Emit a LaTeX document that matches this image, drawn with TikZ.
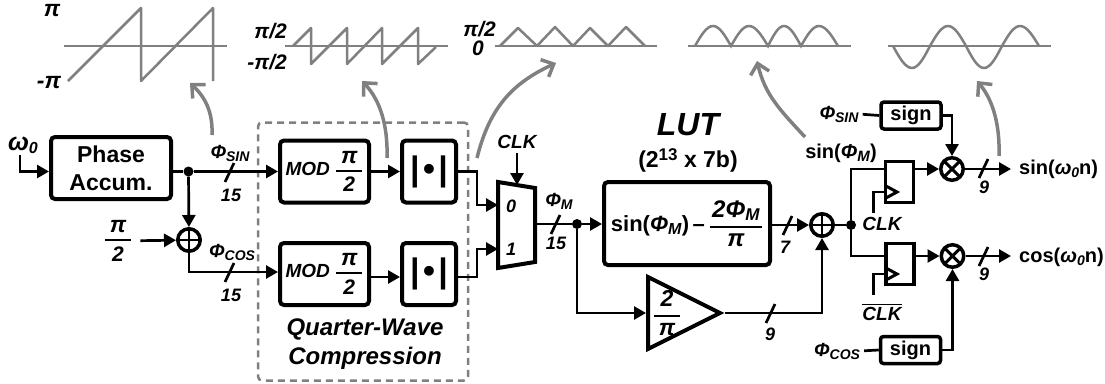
\documentclass[tikz,border=0pt]{standalone}
\usepackage{amsmath}
\usepackage{fontspec}
\setmainfont{Liberation Sans}
\usetikzlibrary{arrows.meta,positioning,shapes.geometric}
\newcommand{\fsz}[1]{\fontsize{#1pt}{\numexpr#1*6/5\relax pt}\selectfont}
\newcommand{\lowsub}[2]{\raisebox{-3pt}{\fsz{#1}#2}}
\newcommand{\stack}[3][26pt]{$\genfrac{}{}{1.8pt}{0}{\hbox{\makebox[#1]{#2}}}{\hbox{\makebox[#1]{#3}}}$}
\definecolor{waveg}{gray}{0.5}
\tikzset{
  >={Triangle[length=12pt,width=13pt]},
  wire/.style={line width=2.7pt},
  block/.style={draw,line width=4pt,rounded corners=4pt,inner sep=0pt,font=\bfseries\itshape\fsz{19},align=center},
  latch/.style={draw,line width=3.5pt,inner sep=0pt,minimum width=28pt,minimum height=41pt},
  signbox/.style={draw,line width=3.5pt,rounded corners=3pt,inner sep=0pt,minimum width=60pt,minimum height=27pt,font=\bfseries\fsz{20}},
  lbl/.style={inner sep=0pt,font=\bfseries\itshape\fsz{18},align=center},
  plain/.style={inner sep=0pt,font=\bfseries\fsz{20},align=center},
  dot/.style={circle,fill,inner sep=0pt,minimum size=10pt},
  adder/.style={circle,draw,line width=3.5pt,inner sep=0pt,minimum size=22.5pt,path picture={
    \draw[line width=2pt] (path picture bounding box.north) -- (path picture bounding box.south)
      (path picture bounding box.west) -- (path picture bounding box.east);}},
  mixer/.style={circle,draw,line width=3.5pt,inner sep=0pt,minimum size=22.5pt,path picture={
    \draw[line width=3pt] (path picture bounding box.north west) -- (path picture bounding box.south east)
      (path picture bounding box.north east) -- (path picture bounding box.south west);}},
  wave/.style={draw=waveg,line width=2.5pt},
  flow/.style={draw=waveg,line width=3.5pt,-{Straight Barb[length=10pt,width=19pt]}},
}
\begin{document}
\begin{tikzpicture}[x=1pt,y=-1pt,on grid]
\useasboundingbox (0,0) rectangle (1105,383);
% dashed group first, wires go over it
\node[draw=waveg,line width=2.5pt,dash pattern=on 7pt off 5pt,rounded corners=4pt,minimum width=210pt,minimum height=258pt] (qwc) at (363,251.5) {};
% blocks
\node[block,font=\bfseries\fsz{23},minimum width=120pt,minimum height=62pt] (phase) at (111,168) {Phase\\Accum.};
\node[block,minimum width=89pt,minimum height=62pt] (mod1) at (324.5,171.5) {MOD \stack{\fsz{23}π}{\fsz{21}2}};
\node[block,font=\bfseries\fsz{34},minimum width=54pt,minimum height=62pt] (abs1) [right=104.5pt of mod1] {|\hspace{3.5pt}•\hspace{3.5pt}|};
\node[block,minimum width=89pt,minimum height=62pt] (mod2) [below=102.5pt of mod1] {MOD \stack{\fsz{23}π}{\fsz{21}2}};
\node[block,font=\bfseries\fsz{34},minimum width=54pt,minimum height=62pt] (abs2) [right=104.5pt of mod2] {|\hspace{3.5pt}•\hspace{3.5pt}|};
\node[adder] (add1) at (189,240) {};
\node[dot] (tap1) at (188.5,171.5) {};
\node[dot] (tap2) at (577,224) {};
\node[dot] (tap3) at (851,225) {};
\node[block,font=\bfseries\fsz{22},minimum width=166pt,minimum height=83pt] (lut) at (687,223.5) {sin(\textit{Φ}\lowsub{16}{\textit{M}})\,–\,\stack[52pt]{\itshape\fsz{24}2Φ\lowsub{17}{M}}{\itshape\fsz{24}π}};
\node[isosceles triangle,isosceles triangle stretches,draw,line width=4pt,inner sep=0pt,minimum width=72pt,minimum height=72pt,anchor=west] (gain) at (646,313) {};
\node[adder] (add2) at (822,225) {};
\node[latch] (ff1) at (899.5,182) {};
\node[latch] (ff2) at (900,264) {};
\node[mixer] (mix1) at (952,169) {};
\node[mixer] (mix2) at (952.5,256) {};
\node[signbox] (sign1) at (911,115.5) {sign};
\node[signbox] (sign2) at (910.5,350) {sign};
% mux outline and its ports
\coordinate (mux0) at (498,205);
\coordinate (mux1) at (498,249);
\coordinate (muxout) at (535,224);
\coordinate (muxclk) at (517,185);
\draw[line width=4pt,line join=miter] (498,182) -- (535,188) -- (535,262) -- (498,268) -- cycle;
% labels
\node[lbl,font=\bfseries\itshape\fsz{25}] (w0) at (23,145) {ω\lowsub{16}{0}};
\node[lbl,font=\bfseries\itshape\fsz{19}] (phisin) at (230,153) {Φ\lowsub{14}{SIN}};
\node[lbl] (nsin) at (231,195) {15};
\node[lbl,font=\bfseries\itshape\fsz{19}] (phicos) at (232,252) {Φ\lowsub{14}{COS}};
\node[lbl] (ncos) at (231,295) {15};
\node[lbl,font=\bfseries\itshape\fsz{19}] (pihalf) at (118,241) {\stack{\fsz{23}π}{\fsz{21}2}};
\node[lbl,font=\bfseries\itshape\fsz{24}] (qwtext) at (365,344) {Quarter-Wave\\Compression};
\node[lbl,font=\bfseries\itshape\fsz{19}] (clk0) at (517,142) {CLK};
\node[lbl] (sel0) at (511,206) {0};
\node[lbl] (sel1) at (511,249) {1};
\node[lbl,font=\bfseries\itshape\fsz{19}] (phim) at (559,201) {Φ\lowsub{14}{M}};
\node[lbl] (nm) at (556,243) {15};
\node[lbl,font=\bfseries\itshape\fsz{32}] (luttext) at (688,125) {LUT};
\node[plain,font=\bfseries\fsz{23}] (lutsize) at (688,160) {(2\raisebox{7pt}{\fsz{17}13} x 7b)};
\node[lbl] (nlut) at (785,247) {7};
\node[lbl] (ngain) at (770,334) {9};
\node[lbl,font=\bfseries\itshape\fsz{21}] (gaintext) at (667,313) {\stack{\fsz{23}2}{\fsz{23}π}};
\node[plain] (sinm) at (841,153) {sin(\textit{Φ}\lowsub{15}{\textit{M}})};
\node[lbl,font=\bfseries\itshape\fsz{19}] (clk1) at (882,224) {CLK};
\node[lbl,font=\bfseries\itshape\fsz{19}] (clk2) at (882,312) {$\overline{\hbox{CLK}}$};
\node[lbl,font=\bfseries\itshape\fsz{19}] (phisin2) at (839,114) {Φ\lowsub{14}{SIN}};
\node[lbl,font=\bfseries\itshape\fsz{19}] (phicos2) at (837,351) {Φ\lowsub{14}{COS}};
\node[lbl] (n1) at (984,187) {9};
\node[lbl] (n2) at (984,274) {9};
\node[plain,anchor=west] (sinout) at (1019,169) {sin(\textit{ω}\lowsub{14}{\textit{0}}n)};
\node[plain,anchor=west] (cosout) at (1019,257) {cos(\textit{ω}\lowsub{14}{\textit{0}}n)};
% wires
\coordinate (w0in) at (20,155);
\coordinate (clk1in) at (873.5,213);
\coordinate (clk2in) at (873.5,295);
\path[wire,draw,->]
  (w0in) |- (phase.west |- tap1);
\draw[wire] (phase.east |- tap1) -- (tap1);
\draw[wire,->] (tap1) -- (mod1.west |- tap1);
\draw[wire,->] (tap1) -- (add1);
\draw[wire,->,shorten <=8pt] (pihalf) -- (add1);
\draw[wire,->] (add1) |- ([yshift=2pt]mod2.west);
\draw[wire,->] (mod1) -- (abs1);
\draw[wire,->] ([yshift=-3pt]mod2.east) -- ([yshift=-3pt]abs2.west);
\draw[wire,->] (abs1.east) -- ++(19,0) |- (mux0);
\draw[wire,->] ([yshift=-3pt]abs2.east) -- ++(19,0) |- (mux1);
\draw[wire,->,shorten <=4pt] (clk0) -- (muxclk);
\draw[wire] (muxout) -- (tap2);
\draw[wire,->] (tap2) -- (lut.west |- tap2);
\draw[wire,->] (tap2) |- (gain.west);
\draw[wire,->] (lut.east |- add2) -- (add2);
\draw[wire,->] (gain.east) -| (add2);
\draw[wire] (add2) -- (tap3);
\draw[wire] (tap3) |- (ff1.west |- mix1);
\draw[wire] (tap3) |- (ff2.west |- mix2);
\draw[wire,->] (ff1.east |- mix1) -- (mix1);
\draw[wire,->] (ff2.east |- mix2) -- (mix2);
\draw[wire] (clk1in) |- (885,192);
\draw[wire] (clk2in) |- (885,274);
\draw[line width=3pt,line join=miter] (885,185.5) -- (897,192) -- (885,198.5);
\draw[line width=3pt,line join=miter] (885,267.5) -- (897,274) -- (885,280.5);
\draw[wire,->] (sign1.east) -| (mix1);
\draw[wire,->] (sign2.east) -| (mix2);
\draw[wire,shorten <=4pt] (phisin2.east) -- (sign1.west);
\draw[wire,shorten <=4pt] (phicos2.east) -- (sign2.west);
\draw[wire,->,shorten >=8pt] (mix1) -- (sinout);
\draw[wire,->,shorten >=8pt] (mix2) -- (mix2 -| cosout.west);
% bus marks
\draw[wire] (225,182) -- (234,163);
\draw[wire] (225,282) -- (234,263);
\draw[wire] (551,234) -- (560,215);
\draw[wire] (783,235) -- (792,216);
\draw[wire] (766,323) -- (775,304);
\draw[wire] (979,178) -- (988,159);
\draw[wire] (979,266) -- (988,247);
% waveforms
\draw[wave] (64,46) -- (227,46);
\draw[wave,line join=round] (68,81) -- (141,8) -- (141,81) -- (213,8) -- (213,81);
\node[plain,font=\bfseries\itshape\fsz{23}] (wa1) at (52,11) {π};
\node[plain,font=\bfseries\itshape\fsz{23}] (wa2) at (49,83) {-π};
\draw[wave] (285,46) -- (448,46);
\draw[wave,line join=round] (293,46) -- (311,28) -- (311,64) -- (347,28) -- (347,64) -- (382,28) -- (382,64) -- (418,28) -- (418,64) -- (436,47);
\node[plain,font=\bfseries\itshape\fsz{21},anchor=east] (wb1) at (287,31) {π/2};
\node[plain,font=\bfseries\itshape\fsz{21},anchor=east] (wb2) at (287,62) {-π/2};
\draw[wave] (495,46) -- (657,46);
\draw[wave,line join=round] (500,46) -- (518,28) -- (537,46) -- (555,27) -- (573,46) -- (590,28) -- (608,46) -- (626,27) -- (645,46);
\node[plain,font=\bfseries\itshape\fsz{21},anchor=east] (wc1) at (496,29) {π/2};
\node[plain,font=\bfseries\itshape\fsz{21}] (wc2) at (478,48) {0};
\draw[wave] (688,46) -- (851,46);
\draw[wave] (695,46) sin (713,26) cos (731,46) sin (749,26) cos (768,46) sin (784,26) cos (801,46) sin (819,26) cos (838,46);
\draw[wave] (888,46) -- (1051,46);
\draw[wave] (893,46) sin (912,68) cos (930,46) sin (948,26) cos (966,46) sin (984,68) cos (1002,46) sin (1020,26) cos (1039,46);
% annotation arrows
\coordinate (a1s) at (212,135); \coordinate (a1e) at (190,83);
\coordinate (a2s) at (387,158); \coordinate (a2e) at (362,81);
\coordinate (a3s) at (477,158); \coordinate (a3e) at (556,63);
\coordinate (a4s) at (805,137); \coordinate (a4e) at (757,61);
\coordinate (a5s) at (999,156); \coordinate (a5e) at (977,81);
\draw[flow] (a1s) .. controls (213,112) and (205,97) .. (a1e);
\draw[flow] (a2s) .. controls (388,125) and (380,100) .. (a2e);
\draw[flow] (a3s) .. controls (490,105) and (515,82) .. (a3e);
\draw[flow] (a4s) .. controls (780,110) and (765,95) .. (a4e);
\draw[flow] (a5s) .. controls (1000,125) and (993,100) .. (a5e);
\end{tikzpicture}
\end{document}
